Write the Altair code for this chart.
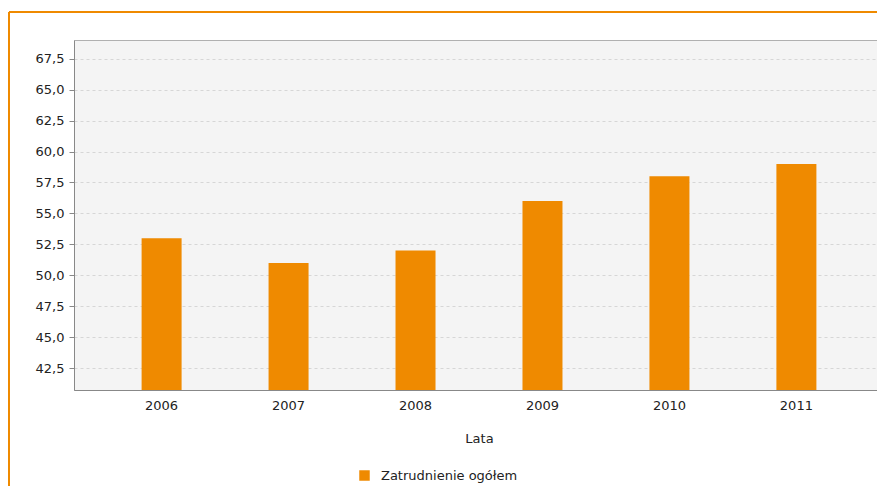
import altair as alt
import pandas as pd

years = ["2006", "2007", "2008", "2009", "2010", "2011"]
values = [53.0, 51.0, 52.0, 56.0, 58.0, 59.0]
series_name = "Zatrudnienie ogółem"
y_ticks = [42.5, 45.0, 47.5, 50.0, 52.5, 55.0, 57.5, 60.0, 62.5, 65.0, 67.5]

df = pd.DataFrame({"Lata": years, "value": values, "series": [series_name] * len(years)})

FONT = "DejaVu Sans"
ORANGE = "#ef8a00"

bars = alt.Chart(df).mark_bar(size=40, color=ORANGE, clip=True).encode(
    x=alt.X("Lata:N", title="Lata",
            scale=alt.Scale(paddingInner=0, paddingOuter=0.19, range=[0, 810]),
            axis=alt.Axis(labelAngle=0, ticks=False, labelPadding=9, titlePadding=20,
                          domainColor="#888888", grid=False)),
    y=alt.Y("value:Q", title=None,
            scale=alt.Scale(domain=[40.75, 69], nice=False, zero=False),
            axis=alt.Axis(values=y_ticks, labelExpr="replace(format(datum.value, '.1f'), '.', ',')",
                          tickSize=5, tickColor="#888888", labelPadding=5, domainColor="#888888",
                          grid=True, gridColor="#d6d6d6", gridDash=[3, 3])),
    color=alt.Color("series:N", title=None,
                    scale=alt.Scale(domain=[series_name], range=[ORANGE]),
                    legend=alt.Legend(orient="none", legendX=284, legendY=429, symbolType="square",
                                      symbolSize=110, symbolStrokeWidth=0, labelFontSize=13,
                                      labelFont=FONT, labelColor="#222222", labelOffset=10)),
)

left_border = alt.Chart(df).mark_rule(color=ORANGE, strokeWidth=1.5).encode(
    x=alt.value(-65), y=alt.value(-28), y2=alt.value(470)
)
top_border = alt.Chart(df).mark_rule(color=ORANGE, strokeWidth=1.5).encode(
    x=alt.value(-65), x2=alt.value(830), y=alt.value(-28)
)

chart = alt.layer(bars, left_border, top_border).properties(
    width=803, height=350,
    autosize=alt.AutoSizeParams(type="none"),
    padding={"left": 66, "top": 32, "right": 0, "bottom": 96},
    background="white",
).configure_view(
    fill="#f4f4f4", stroke="#b0b0b0", strokeWidth=1
).configure_axis(
    labelFont=FONT, labelFontSize=13, labelColor="#222222",
    titleFont=FONT, titleFontSize=13, titleColor="#222222", titleFontWeight="normal",
)

chart.save("out.html", embed_options={"renderer": "svg", "actions": False})
